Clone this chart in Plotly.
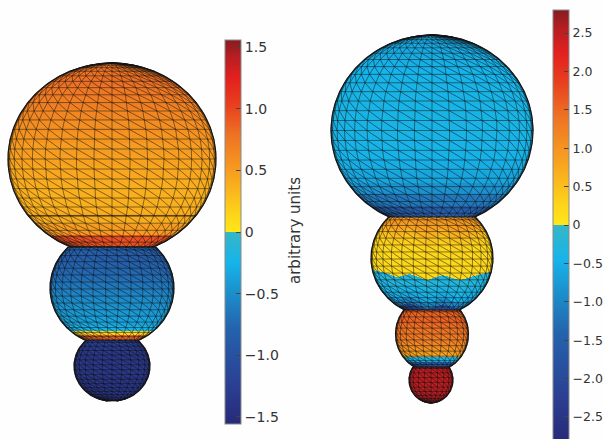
import numpy as np
import plotly.graph_objects as go

# ---------- data (values per mesh row, top to bottom) ----------
left_large = [0.78, 0.80, 0.75, 0.70, 0.65, 0.60, 0.55, 0.50, 0.47, 0.43, 0.40, 0.38, 0.38, 0.40, 0.50, 0.95]
left_middle = [-0.80, -0.85, -0.85, -0.80, -0.78, -0.75, -0.72, -0.68, -0.65, -0.60, -0.55, -0.52, -0.50, -0.45, -0.42, -0.38, -0.35, -0.25, 0.10, 0.85]
left_small = [-1.25, -1.30, -1.35, -1.35, -1.35, -1.35, -1.40, -1.40, -1.40, -1.40]
right_large = [-0.60, -0.55, -0.50, -0.45, -0.42, -0.40, -0.40, -0.40, -0.40, -0.42, -0.46, -0.52, -0.62, -0.85, -1.15, -1.55]
right_middle = [0.95, 0.85, 0.65, 0.45, 0.32, 0.25, 0.22, 0.22, 0.22, 0.20, -0.25, -0.30, -0.40, -0.55, -1.00, -1.80]
right_third = [1.55, 1.55, 1.55, 1.45, 1.40, 1.35, 1.25, 1.15, 1.00, 0.80, -0.40, -1.60]
right_small = [2.50, 2.50, 2.50, 2.50, 2.50, 2.55, 2.60, 2.70]
# the wavy yellow/blue edge of the right middle sphere: screen column, edge row
edge_columns = [373, 383, 397, 410, 427, 443, 460, 477, 490]
edge_rows = [268, 270, 275, 272, 278, 273, 278, 273, 270]

left_tick_values = [-1.5, -1.0, -0.5, 0, 0.5, 1.0, 1.5]
left_tick_labels = ["−1.5", "−1.0", "−0.5", "0", "0.5", "1.0", "1.5"]
right_tick_values = [-2.5, -2.0, -1.5, -1.0, -0.5, 0, 0.5, 1.0, 1.5, 2.0, 2.5]
right_tick_labels = ["−2.5", "−2.0", "−1.5", "−1.0", "−0.5", "0", "0.5", "1.0", "1.5", "2.0", "2.5"]
colorbar_title = "arbitrary units"

# ---------- layout / style ----------
W, H = 605, 439
LEFT_MAX, RIGHT_MAX = 1.557, 2.8
SEAM_ROW = 216  # darker parallel across the lower part of the large left sphere
# cx, cy, rx, ry, top row, bottom row, latitude step, longitude step
GEOM_LEFT = [(112, 159, 104, 96, 63, 247, 6, 10), (112, 288, 62, 58, 247, 340, 7, 12), (112, 366, 38, 35.3, 340, 401, 8, 15)]
GEOM_RIGHT = [(432, 130.5, 101, 95.5, 35, 217, 6, 10), (432, 258, 61, 58.2, 217, 310, 7, 12),
              (432, 334, 36.5, 37.7, 310, 367, 9, 15), (431, 380, 22, 23, 367, 403, 12, 18)]
COLORS = [[0, "#272a78"], [0.1, "#2b3f92"], [0.25, "#2463ad"], [0.35, "#1b93cf"], [0.42, "#16b4ea"],
          [0.4995, "#36b6c6"], [0.5, "#ffe71a"], [0.55, "#fdd31a"], [0.65, "#f7a11f"], [0.75, "#ee7424"],
          [0.83, "#e8401f"], [0.9, "#e3201f"], [0.96, "#b41e22"], [1, "#851c20"]]


def raster(x0, x1, geoms, rows, wavy=None):
    xs = np.arange(x0, x1) + 0.5
    ys = np.arange(0, H) + 0.5
    X, Y = np.meshgrid(xs, ys)
    Z = np.full(X.shape, np.nan)
    for k, ((cx, cy, rx, ry, yt, yb, _, _), vals) in enumerate(zip(geoms, rows)):
        inside = (((X - cx) / rx) ** 2 + ((Y - cy) / ry) ** 2 <= 1) & (Y >= yt) & (Y <= yb)
        Yv = Y
        if wavy == k:
            shift = np.mean(edge_rows) - np.interp(X, edge_columns, edge_rows)
            Yv = Y + shift
        idx = np.clip(((Yv - yt) / (yb - yt) * len(vals)).astype(int), 0, len(vals) - 1)
        Z[inside] = np.array(vals)[idx[inside]]
    return xs, ys, Z


def mesh(geoms):
    lx, ly, ox, oy = [], [], [], []
    for cx, cy, rx, ry, yt, yb, dlat, dlon in geoms:
        lat_top = np.degrees(np.arcsin(np.clip((cy - yt) / ry, -1, 1)))
        lat_bot = np.degrees(np.arcsin(np.clip((cy - yb) / ry, -1, 1)))
        lats = np.unique(np.clip(np.arange(90, -91, -dlat), lat_bot, lat_top))[::-1]
        lons = np.arange(-90, 91, dlon)
        px = lambda la, lo: cx + rx * np.cos(np.radians(la)) * np.sin(np.radians(lo))
        py = lambda la: cy - ry * np.sin(np.radians(la))
        for la in lats:  # parallels
            lx += [px(la, -90), px(la, 90), None]
            ly += [py(la), py(la), None]
        for lo in lons:  # meridians
            lx += [px(la, lo) for la in lats] + [None]
            ly += [py(la) for la in lats] + [None]
        for a, b in zip(lats[:-1], lats[1:]):  # diagonals
            for l0, l1 in zip(lons[:-1], lons[1:]):
                lx += [px(a, l0), px(b, l1), None]
                ly += [py(a), py(b), None]
        fine = np.linspace(lat_bot, lat_top, 120)
        ox += [px(la, -90) for la in fine] + [None] + [px(la, 90) for la in fine] + [None]
        oy += [py(la) for la in fine] + [None] + [py(la) for la in fine] + [None]
    return lx, ly, ox, oy


fig = go.Figure()
panels = [
    (0, 225, GEOM_LEFT, [left_large, left_middle, left_small], None, "coloraxis"),
    (320, 550, GEOM_RIGHT, [right_large, right_middle, right_third, right_small], 1, "coloraxis2"),
]
for x0, x1, geoms, rows, wavy, cax in panels:
    xs, ys, Z = raster(x0, x1, geoms, rows, wavy)
    fig.add_trace(go.Heatmap(x=xs, y=ys, z=Z.tolist(), coloraxis=cax, hoverinfo="skip", hoverongaps=False))
    lx, ly, ox, oy = mesh(geoms)
    fig.add_trace(go.Scatter(x=lx, y=ly, mode="lines", line=dict(color="rgba(15,15,15,0.62)", width=0.8),
                             hoverinfo="skip", showlegend=False))
    fig.add_trace(go.Scatter(x=ox, y=oy, mode="lines", line=dict(color="#161616", width=1.2),
                             hoverinfo="skip", showlegend=False))

cx0, cy0, rx0, ry0 = GEOM_LEFT[0][:4]
half = rx0 * np.sqrt(1 - ((SEAM_ROW - cy0) / ry0) ** 2)
fig.add_trace(go.Scatter(x=[cx0 - half, cx0 + half], y=[SEAM_ROW, SEAM_ROW], mode="lines",
                         line=dict(color="rgba(20,20,20,0.8)", width=1.2), hoverinfo="skip", showlegend=False))


def colorbar(x, top, length, vals, text, size):
    return dict(x=x / W, xanchor="left", xpad=0, y=1 - top / H, yanchor="top", ypad=0,
                thicknessmode="pixels", thickness=16, lenmode="pixels", len=length,
                outlinecolor="#8a8a8a", outlinewidth=1, borderwidth=0,
                tickmode="array", tickvals=vals, ticktext=text, ticks="inside", ticklen=5,
                tickcolor="#444444", tickwidth=1, tickfont=dict(family="DejaVu Sans", size=size, color="#333333"))


fig.update_layout(
    width=W, height=H, margin=dict(l=0, r=0, t=0, b=0, pad=0, autoexpand=False),
    paper_bgcolor="#fefefe", plot_bgcolor="#fefefe", showlegend=False,
    xaxis=dict(range=[0, W], visible=False, fixedrange=True),
    yaxis=dict(range=[H, 0], visible=False, fixedrange=True),
    coloraxis=dict(cmin=-LEFT_MAX, cmax=LEFT_MAX, colorscale=COLORS,
                   colorbar=colorbar(225, 40, 384, left_tick_values, left_tick_labels, 14)),
    coloraxis2=dict(cmin=-RIGHT_MAX, cmax=RIGHT_MAX, colorscale=COLORS,
                    colorbar=colorbar(553, 10, 430, right_tick_values, right_tick_labels, 12.5)),
    annotations=[dict(x=295, y=231, xref="x", yref="y", text=colorbar_title, textangle=-90, showarrow=False,
                      font=dict(family="DejaVu Sans", size=15, color="#333333"))],
)
fig.write_html("out.html", config=dict(displayModeBar=False),
               post_script="document.body.style.margin='0';document.body.style.overflow='hidden';")
